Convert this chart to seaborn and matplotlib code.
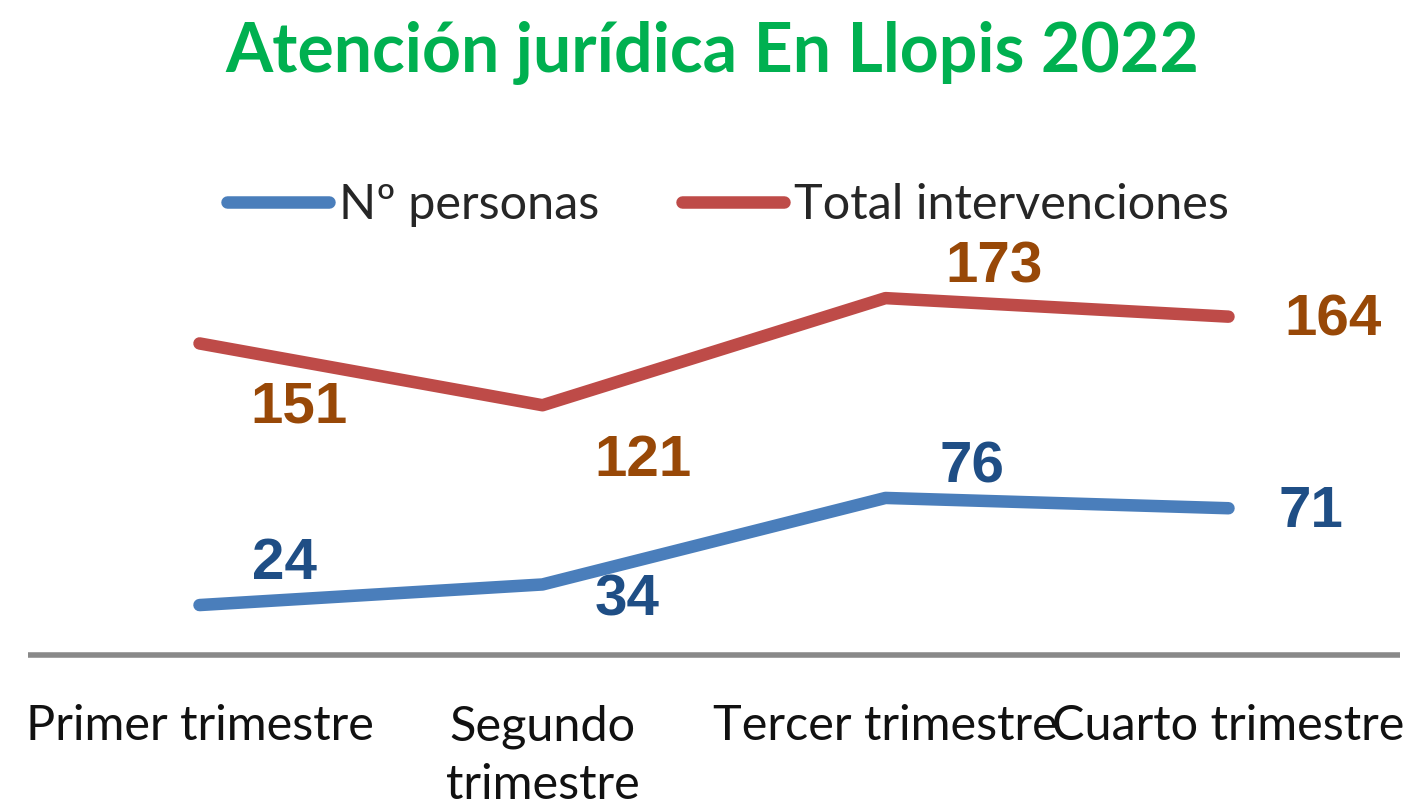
"""
Atención jurídica En Llopis 2022 - personas vs intervenciones por trimestre
"""

import matplotlib
matplotlib.use('Agg')
import matplotlib.pyplot as plt
import seaborn as sns
import pandas as pd

# DATA
trimestres = ['Primer trimestre', 'Segundo\ntrimestre', 'Tercer trimestre', 'Cuarto trimestre']
n_personas = [24, 34, 76, 71]
total_intervenciones = [151, 121, 173, 164]
series_names = ['Nº personas', 'Total intervenciones']

# long format for seaborn
df = pd.DataFrame({
    'trimestre': trimestres * 2,
    'valor': n_personas + total_intervenciones,
    'serie': [series_names[0]] * 4 + [series_names[1]] * 4,
})

# STYLE
sns.set_style('white')
plt.rcParams['font.family'] = ['Lato', 'DejaVu Sans']
line_colors = {series_names[0]: '#4A7EBB', series_names[1]: '#BE4B48'}
label_colors = {series_names[0]: '#1F4E85', series_names[1]: '#984807'}

# label offsets in pixels (dx, dy), dy positive = up
offsets = {
    series_names[0]: [(85, 41), (85, -16), (86, 30), (82, -4)],
    series_names[1]: [(100, -64), (100, -56), (109, 31), (105, -4)],
}

fig = plt.figure(figsize=(14.13, 8.07), dpi=100)
ax = fig.add_axes([28 / 1413, 152.5 / 807, 1372 / 1413, 412 / 807])

sns.lineplot(data=df, x='trimestre', y='valor', hue='serie', palette=line_colors,
             sort=False, linewidth=9, solid_capstyle='round', legend=False, ax=ax)

# data labels
for name, vals in zip(series_names, [n_personas, total_intervenciones]):
    for i, v in enumerate(vals):
        ax.annotate(str(v), (i, v), xytext=offsets[name][i], textcoords='offset pixels',
                    ha='center', va='center', fontsize=42, fontweight='bold',
                    color=label_colors[name], family='Liberation Sans')

ax.set_xlim(-0.5, 3.5)
ax.set_ylim(0, 200)
ax.set_xlabel('')
ax.set_ylabel('')
ax.set_yticks([])
ax.tick_params(axis='x', length=0, pad=36, labelsize=35, labelcolor='#111111')
for lbl in ax.get_xticklabels():
    lbl.set_linespacing(1.4)
sns.despine(ax=ax, left=True)
ax.spines['bottom'].set_color('#898989')
ax.spines['bottom'].set_linewidth(4)
ax.spines['bottom'].set_capstyle('butt')

# legend on top
fig.legend(ax.lines[:2], series_names, loc='center', ncol=2, frameon=False,
           bbox_to_anchor=(728 / 1413, 1 - 205 / 807), fontsize=35,
           handlelength=2.1, handletextpad=0.2, columnspacing=1.7)

fig.text(0.504, 1 - 72 / 807, 'Atención jurídica En Llopis 2022', ha='center', va='baseline',
         fontsize=49, fontweight='bold', color='#00B050')

fig.savefig('out.png', dpi=100)
plt.close('all')
